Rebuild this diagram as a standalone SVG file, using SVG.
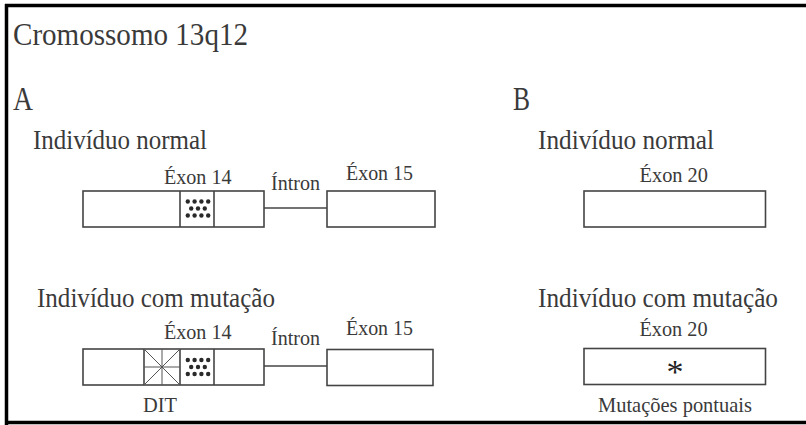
<svg xmlns="http://www.w3.org/2000/svg" width="806" height="425" viewBox="0 0 806 425">
<defs>
<style>
text{font-family:"Liberation Serif","Times New Roman",serif;fill:#3a3a3a}
.t{font-size:31px}
.h{font-size:33px}
.s{font-size:27px}
.l{font-size:21px}
.box{fill:#fff;stroke:#444;stroke-width:1.6}
.ln{stroke:#444;stroke-width:1.6;fill:none}
.thin{stroke:#555;stroke-width:1;fill:none}
.dot{fill:#2a2a2a}
</style>
<g id="dots">
<circle class="dot" cx="187.8" cy="-7" r="2.2"/><circle class="dot" cx="194.6" cy="-7" r="2.2"/><circle class="dot" cx="201.4" cy="-7" r="2.2"/><circle class="dot" cx="208.2" cy="-7" r="2.2"/>
<circle class="dot" cx="191.2" cy="0" r="2.2"/><circle class="dot" cx="198" cy="0" r="2.2"/><circle class="dot" cx="204.8" cy="0" r="2.2"/>
<circle class="dot" cx="187.8" cy="7" r="2.2"/><circle class="dot" cx="194.6" cy="7" r="2.2"/><circle class="dot" cx="201.4" cy="7" r="2.2"/><circle class="dot" cx="208.2" cy="7" r="2.2"/>
</g>
</defs>
<rect width="806" height="425" fill="#fff"/>
<g id="frame" stroke="#000" stroke-width="3.5" fill="none">
<line x1="6.5" y1="4" x2="6.5" y2="425"/>
<line x1="5" y1="5.5" x2="806" y2="5.5"/>
<line x1="5" y1="422.5" x2="806" y2="422.5"/>
</g>
<g id="headings">
<text class="t" x="13" y="45" textLength="235" lengthAdjust="spacingAndGlyphs">Cromossomo 13q12</text>
<text class="h" x="13" y="110" textLength="20" lengthAdjust="spacingAndGlyphs">A</text>
<text class="h" x="513" y="110" textLength="17" lengthAdjust="spacingAndGlyphs">B</text>
<text class="s" x="33" y="149" textLength="174" lengthAdjust="spacingAndGlyphs">Indivíduo normal</text>
<text class="s" x="538" y="149" textLength="176" lengthAdjust="spacingAndGlyphs">Indivíduo normal</text>
<text class="s" x="37" y="307" textLength="238" lengthAdjust="spacingAndGlyphs">Indivíduo com mutação</text>
<text class="s" x="538" y="307" textLength="240" lengthAdjust="spacingAndGlyphs">Indivíduo com mutação</text>
</g>
<g id="connectors">
<line class="ln" x1="264" y1="208" x2="327" y2="208"/>
<line class="ln" x1="264" y1="366" x2="327" y2="366"/>
</g>
<g id="a-normal-exon14">
<text class="l" x="164" y="184" textLength="67.5" lengthAdjust="spacingAndGlyphs">Éxon 14</text>
<rect class="box" x="83" y="191" width="181" height="36"/>
<line class="ln" x1="180" y1="191" x2="180" y2="227"/>
<line class="ln" x1="214" y1="191" x2="214" y2="227"/>
<use href="#dots" y="208.5"/>
</g>
<g id="a-normal-intron"><text class="l" x="271" y="189.5" textLength="49" lengthAdjust="spacingAndGlyphs">Íntron</text></g>
<g id="a-normal-exon15">
<text class="l" x="346" y="180" textLength="67" lengthAdjust="spacingAndGlyphs">Éxon 15</text>
<rect class="box" x="327" y="191" width="108" height="36"/>
</g>
<g id="a-mut-exon14">
<text class="l" x="164" y="339" textLength="67.5" lengthAdjust="spacingAndGlyphs">Éxon 14</text>
<rect class="box" x="83" y="349" width="181" height="36"/>
<line class="ln" x1="144" y1="349" x2="144" y2="385"/>
<line class="ln" x1="180" y1="349" x2="180" y2="385"/>
<line class="ln" x1="214" y1="349" x2="214" y2="385"/>
<path class="thin" d="M144 349L180 385M180 349L144 385M162 349V385M144 367H180"/>
<use href="#dots" y="367"/>
<text class="l" x="143" y="412" textLength="34" lengthAdjust="spacingAndGlyphs">DIT</text>
</g>
<g id="a-mut-intron"><text class="l" x="271" y="345" textLength="49" lengthAdjust="spacingAndGlyphs">Íntron</text></g>
<g id="a-mut-exon15">
<text class="l" x="346" y="335" textLength="67" lengthAdjust="spacingAndGlyphs">Éxon 15</text>
<rect class="box" x="327" y="349.5" width="106" height="36"/>
</g>
<g id="b-normal-exon20">
<text class="l" x="639.5" y="182" textLength="68.5" lengthAdjust="spacingAndGlyphs">Éxon 20</text>
<rect class="box" x="584" y="191" width="181.5" height="36"/>
</g>
<g id="b-mut-exon20">
<text class="l" x="639.5" y="336" textLength="68" lengthAdjust="spacingAndGlyphs">Éxon 20</text>
<rect class="box" x="584" y="348.5" width="181.5" height="36"/>
<text x="675" y="383" font-size="34" text-anchor="middle" style="fill:#222">*</text>
<text class="l" x="598" y="412" textLength="154" lengthAdjust="spacingAndGlyphs">Mutações pontuais</text>
</g>
</svg>
